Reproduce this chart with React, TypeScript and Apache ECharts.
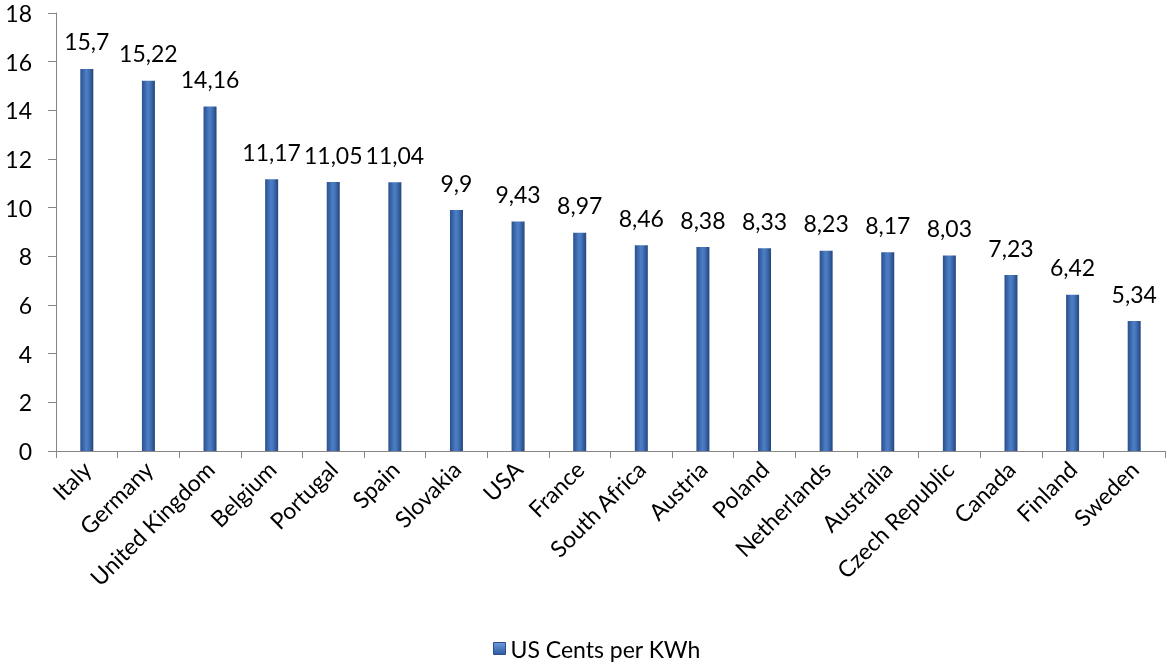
import React, { useEffect, useRef } from "react";
import * as echarts from "echarts";

const countries = [
  "Italy", "Germany", "United Kingdom", "Belgium", "Portugal", "Spain", "Slovakia", "USA", "France",
  "South Africa", "Austria", "Poland", "Netherlands", "Australia", "Czech Republic", "Canada", "Finland", "Sweden",
];
const centsPerKwh = [15.7, 15.22, 14.16, 11.17, 11.05, 11.04, 9.9, 9.43, 8.97, 8.46, 8.38, 8.33, 8.23, 8.17, 8.03, 7.23, 6.42, 5.34];
const seriesName = "US Cents per KWh";

const FONT = "Lato, 'Open Sans', sans-serif";

export default function App() {
  const ref = useRef<HTMLDivElement>(null);
  useEffect(() => {
    const chart = echarts.init(ref.current!, null, { renderer: "svg" });
    const barFill = new echarts.graphic.LinearGradient(0, 0, 1, 0, [
      { offset: 0, color: "#2a4f8c" },
      { offset: 0.45, color: "#4c7ec6" },
      { offset: 0.6, color: "#4677be" },
      { offset: 1, color: "#24457d" },
    ]);
    const legendFill = new echarts.graphic.LinearGradient(0, 0, 0, 1, [
      { offset: 0, color: "#6d9be0" },
      { offset: 1, color: "#2e5a9e" },
    ]);
    chart.setOption({
      animation: false,
      textStyle: { fontFamily: FONT },
      grid: { left: 56, right: 1, top: 13, bottom: 213, containLabel: false },
      legend: {
        top: 637,
        left: 493,
        padding: 0,
        itemWidth: 12,
        itemHeight: 12,
        itemGap: 6,
        icon: "rect",
        itemStyle: { color: legendFill, borderColor: "#2a4f8c", borderWidth: 1 },
        textStyle: { fontSize: 23, color: "#000", fontFamily: FONT },
        data: [seriesName],
      },
      xAxis: {
        type: "category",
        data: countries,
        axisLine: { lineStyle: { color: "#868686" } },
        axisTick: { show: true, length: 7, lineStyle: { color: "#868686" } },
        axisLabel: { rotate: 45, fontSize: 23, color: "#000", margin: 14, interval: 0, fontFamily: FONT },
      },
      yAxis: {
        type: "value",
        min: 0,
        max: 18,
        interval: 2,
        axisLine: { show: true, lineStyle: { color: "#868686" } },
        axisTick: { show: true, length: 8, lineStyle: { color: "#868686" } },
        splitLine: { show: false },
        axisLabel: { fontSize: 23, color: "#000", margin: 24, fontFamily: FONT },
      },
      series: [
        {
          name: seriesName,
          type: "bar",
          data: centsPerKwh,
          barWidth: 13,
          itemStyle: { color: barFill },
          label: {
            show: true,
            position: "top",
            distance: 16,
            fontSize: 23,
            color: "#000",
            fontFamily: FONT,
            formatter: (p: any) => String(p.value).replace(".", ","),
          },
        },
      ],
    });
    return () => chart.dispose();
  }, []);
  return <div ref={ref} style={{ position: "fixed", left: 0, top: 0, width: 1166, height: 664 }} />;
}
